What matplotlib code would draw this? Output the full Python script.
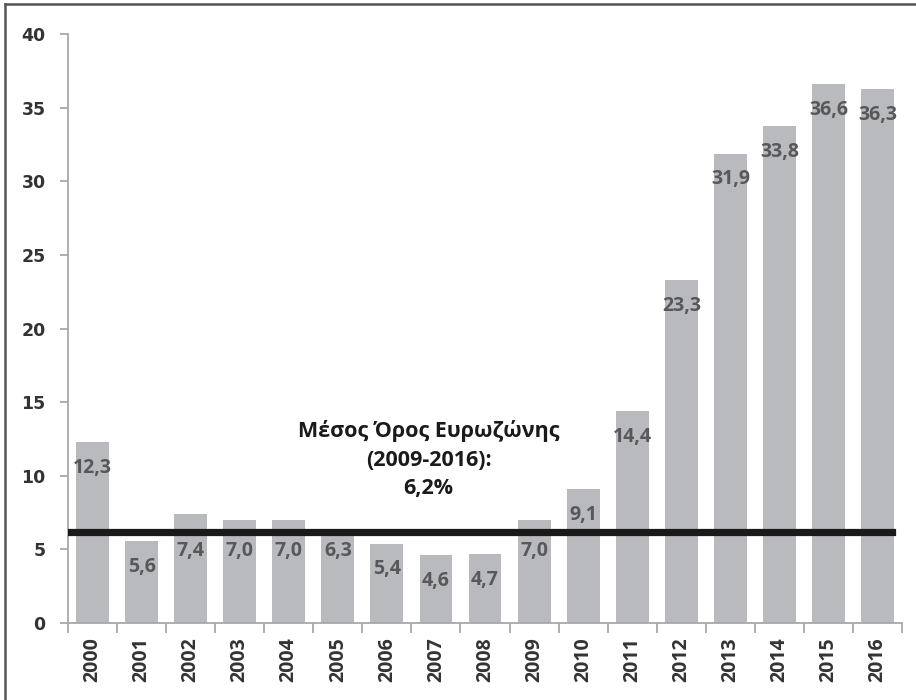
import matplotlib
matplotlib.use('Agg')
import matplotlib.pyplot as plt
from matplotlib.lines import Line2D
import numpy as np

# Data
years   = ['2000', '2001', '2002', '2003', '2004', '2005', '2006', '2007', '2008',
           '2009', '2010', '2011', '2012', '2013', '2014', '2015', '2016']
values  = [12.3, 5.6, 7.4, 7.0, 7.0, 6.3, 5.4, 4.6, 4.7,
           7.0, 9.1, 14.4, 23.3, 31.9, 33.8, 36.6, 36.3]
ez_avg  = 6.2
ez_text = 'Μέσος Όρος Ευρωζώνης\n(2009-2016):\n6,2%'

bar_color   = '#b9babe'
label_color = '#58585a'
axis_color  = '#a8a8a8'
txt_font    = 'Open Sans'

fig = plt.figure(figsize=(9.16, 7.0), dpi=100)
ax = fig.add_axes([0.0742, 0.110, 0.9106, 0.841])

x = np.arange(len(years))
ax.bar(x, values, width=0.67, color=bar_color, zorder=2)

ax.set_xlim(-0.5, len(years) - 0.5)
ax.set_ylim(0, 40)
ax.set_yticks(np.arange(0, 41, 5))

# average line
ax.axhline(ez_avg, xmin=0, xmax=0.988, color='#1a1a1a', lw=5.2, zorder=4)

# value labels inside bars, moved under the average line where they'd clash
for xi, v in zip(x, values):
    txt = '{:.1f}'.format(v).replace('.', ',')
    if ez_avg < v < 9:
        ax.annotate(txt, (xi, ez_avg), xytext=(0, -14), textcoords='offset points',
                    ha='center', va='center', fontsize=14, fontweight='bold',
                    family=txt_font, color=label_color, zorder=5)
    else:
        ax.annotate(txt, (xi, v), xytext=(0, -18.7), textcoords='offset points',
                    ha='center', va='center', fontsize=14, fontweight='bold',
                    family=txt_font, color=label_color, zorder=5)

ax.text(6.85, 11.1, ez_text, ha='center', va='center', fontsize=15.5,
        fontweight='bold', family=txt_font, color='#1a1a1a', linespacing=1.45, zorder=5)

# axes styling
for s in ['top', 'right']:
    ax.spines[s].set_visible(False)
for s in ['left', 'bottom']:
    ax.spines[s].set_color(axis_color)
    ax.spines[s].set_linewidth(1.3)

ax.set_xticks(x)
ax.set_xticklabels(years, rotation=90, fontsize=14, fontweight='bold',
                   family=txt_font, color='#333333')
ax.tick_params(axis='x', which='major', length=0, pad=10)
ax.set_xticks(np.arange(-0.5, len(years)), minor=True)
ax.tick_params(axis='x', which='minor', length=7, color=axis_color, width=1.3)

ax.tick_params(axis='y', length=6, color=axis_color, width=1.3, pad=10,
               labelsize=12.5, labelcolor='#333333')
for lab in ax.get_yticklabels():
    lab.set_fontweight('bold')
    lab.set_family('DejaVu Sans')

# frame lines on top and left of the figure
fig.add_artist(Line2D([0.006, 0.006], [0, 0.994], transform=fig.transFigure,
                      color='#555555', lw=1.8))
fig.add_artist(Line2D([0.006, 1.0], [0.994, 0.994], transform=fig.transFigure,
                      color='#555555', lw=1.8))

fig.savefig('out.png', dpi=100)
